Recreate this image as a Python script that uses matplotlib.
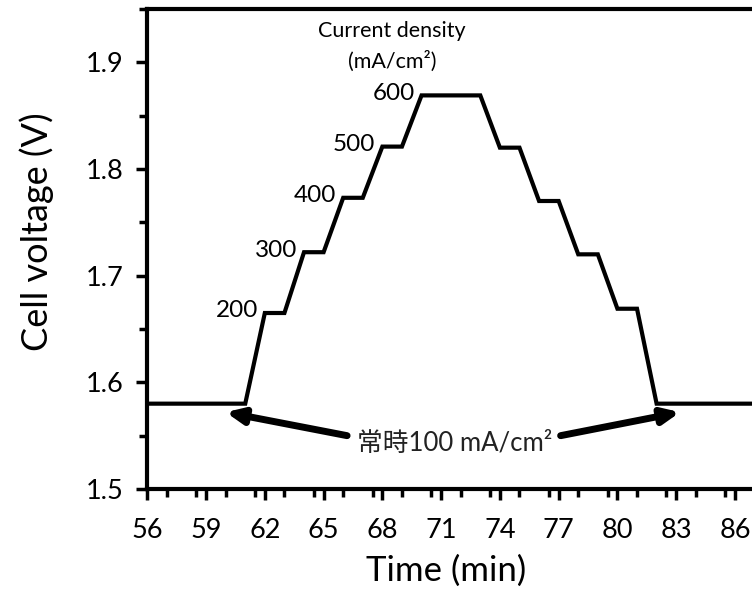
import matplotlib
matplotlib.use("Agg")
import matplotlib.pyplot as plt
from matplotlib.ticker import MultipleLocator

FAM = ['Lato', 'Noto Sans CJK JP', 'DejaVu Sans']
plt.rcParams['font.family'] = FAM

# Data
time_min = [56, 61, 62, 63, 64, 65, 66, 67, 68, 69, 70, 73, 74, 75, 76, 77, 78, 79, 80, 81, 82, 88]
voltage = [1.580, 1.580, 1.665, 1.665, 1.722, 1.722, 1.773, 1.773, 1.821, 1.821, 1.869, 1.869,
           1.820, 1.820, 1.770, 1.770, 1.720, 1.720, 1.669, 1.669, 1.580, 1.580]
step_labels = ["200", "300", "400", "500", "600"]
step_x = [62, 64, 66, 68, 70]
step_y = [1.665, 1.722, 1.773, 1.821, 1.869]
xticks = [56, 59, 62, 65, 68, 71, 74, 77, 80, 83, 86]
yticks = [1.5, 1.6, 1.7, 1.8, 1.9]

fig = plt.figure(figsize=(7.52, 5.93), dpi=100)
ax = fig.add_axes([147.3/752, 104/593, (752-147.3)/752, 480/593])

ax.plot(time_min, voltage, color='black', lw=3.0, solid_joinstyle='miter', clip_on=True)

ax.set_xlim(56, 86.87)
ax.set_ylim(1.5, 1.95)
ax.set_xticks(xticks)
ax.set_yticks(yticks)
ax.xaxis.set_minor_locator(MultipleLocator(1.5))
ax.yaxis.set_minor_locator(MultipleLocator(0.05))
ax.set_yticklabels([f"{v:.1f}" for v in yticks])

for s in ['left', 'bottom', 'top']:
    ax.spines[s].set_linewidth(3.0)
ax.spines['right'].set_visible(False)

ax.tick_params(axis='both', which='major', direction='out', length=8, width=2.5, labelsize=19.5)
ax.tick_params(axis='x', which='major', pad=13)
ax.tick_params(axis='y', which='major', pad=9)
ax.tick_params(axis='both', which='minor', direction='out', length=6, width=2.5)

ax.set_xlabel("Time (min)", fontsize=25)
ax.xaxis.label.set_va('center')
ax.xaxis.set_label_coords(0.4935, -(571 - 489) / 480)
ax.set_ylabel("Cell voltage (V)", fontsize=26)
ax.yaxis.label.set_va('center')
ax.yaxis.set_label_coords((37 - 147.3) / 604.7, (489 - 231.5) / 480)

for lab, x, y in zip(step_labels, step_x, step_y):
    ax.text(x - 0.35, y + 0.002, lab, ha='right', va='center', fontsize=17.5)

ax.text(68.5, 1.929, "Current density", ha='center', va='center', fontsize=15.5)
ax.text(68.5, 1.901, "(mA/cm²)", ha='center', va='center', fontsize=15.5)

ax.text(71.7, 1.543, "常時100 mA/cm²", ha='center', va='center', fontsize=18.5,
        color='#222222', family=FAM)
arrow_kw = dict(arrowstyle='-|>,head_length=1.0,head_width=0.45', color='black', lw=5,
                shrinkA=0, shrinkB=0)
ax.annotate("", xy=(60.0, 1.572), xytext=(66.2, 1.550), arrowprops=arrow_kw)
ax.annotate("", xy=(83.2, 1.572), xytext=(77.1, 1.550), arrowprops=arrow_kw)

fig.savefig("out.png", dpi=100)
